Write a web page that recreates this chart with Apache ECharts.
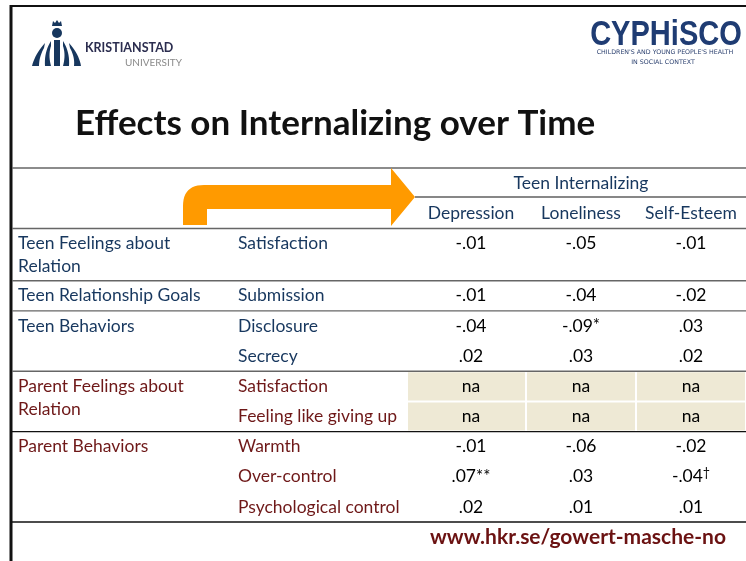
<!DOCTYPE html>
<html>
<head>
<meta charset="utf-8">
<script src="https://cdn.jsdelivr.net/npm/echarts@6/dist/echarts.min.js"></script>
<style>
  html, body { margin: 0; padding: 0; background: #fff; }
  #main { width: 746px; height: 561px; }
</style>
</head>
<body>
<div id="main"></div>
<script>
// table content
var outcomes = ['Depression', 'Loneliness', 'Self-Esteem'];
var groups = ['Teen Feelings about\nRelation', 'Teen Relationship Goals', 'Teen Behaviors', 'Parent Feelings about\nRelation', 'Parent Behaviors'];
var groupSide = ['teen', 'teen', 'teen', 'parent', 'parent'];
var measures = ['Satisfaction', 'Submission', 'Disclosure', 'Secrecy', 'Satisfaction', 'Feeling like giving up', 'Warmth', 'Over-control', 'Psychological control'];
var measureGroup = [0, 1, 2, 2, 3, 3, 4, 4, 4];
var depression = ['-.01', '-.01', '-.04', '.02', 'na', 'na', '-.01', '.07**', '.02'];
var loneliness = ['-.05', '-.04', '-.09*', '.03', 'na', 'na', '-.06', '.03', '.01'];
var selfEsteem = ['-.01', '-.02', '.03', '.02', 'na', 'na', '-.02', '-.04\u2020', '.01'];

var columns = [depression, loneliness, selfEsteem];
var NAVY = '#17375E';
var MAROON = '#6E1818';
var FONT = 'Lato, "Noto Sans", sans-serif';
var FS = 17.5;

// row heights in row units: a group gets room for its wrapped label
var rowH = measures.map(function () { return 1; });
groups.forEach(function (g, gi) {
  var rows = [];
  measureGroup.forEach(function (m, i) { if (m === gi) rows.push(i); });
  var lines = g.split('\n').length;
  var need = 1 + 0.75 * (lines - 1);
  if (need > rows.length) rowH[rows[rows.length - 1]] += need - rows.length;
});
var rowStart = [];
var acc = 0;
rowH.forEach(function (h) { rowStart.push(acc); acc += h; });
var totalRows = acc;

var cellData = [];
columns.forEach(function (col, c) {
  col.forEach(function (v, r) { cellData.push([c, r]); });
});
var rowData = measures.map(function (m, r) { return [0, r]; });

function sideColor(r) {
  return groupSide[measureGroup[r]] === 'teen' ? NAVY : MAROON;
}

// split significance marks off so they can sit raised
function cellRich(txt) {
  var m = txt.match(/^([^*\u2020]*)([*\u2020]*)$/);
  if (!m || !m[2]) return '{v|' + txt + '}';
  return '{v|' + m[1] + '}{' + (m[2].indexOf('*') >= 0 ? 'a' : 'd') + '|' + m[2] + '}';
}

// quadratic curve as points (graphic has no path type)
function quad(p0, p1, p2, n) {
  var pts = [];
  for (var i = 0; i <= n; i++) {
    var t = i / n, u = 1 - t;
    pts.push([u * u * p0[0] + 2 * u * t * p1[0] + t * t * p2[0], u * u * p0[1] + 2 * u * t * p1[1] + t * t * p2[1]]);
  }
  return pts;
}
function crescent(a0, a1, a2, b0, b1, b2) {
  return quad(a0, a1, a2, 10).concat(quad(b2, b1, b0, 10));
}

var arrowPts = [[183, 225]].concat(quad([183, 206], [183, 185], [204, 185], 12))
  .concat([[391, 185], [391, 168], [415, 197], [391, 226], [391, 209], [207, 209], [207, 225]]);

var chart = echarts.init(document.getElementById('main'));
chart.setOption({
  animation: false,
  grid: { left: 416, top: 228, width: 345, height: 294 },
  xAxis: {
    type: 'category',
    position: 'top',
    data: outcomes,
    axisLine: { show: false },
    axisTick: { show: false },
    axisLabel: { color: NAVY, fontSize: FS, fontFamily: FONT, margin: 6, interval: 0 },
    name: 'Teen Internalizing',
    nameLocation: 'middle',
    nameGap: 36,
    nameTextStyle: { color: NAVY, fontSize: FS, fontFamily: FONT }
  },
  yAxis: {
    type: 'value',
    inverse: true,
    min: 0,
    max: totalRows,
    show: false
  },
  graphic: [
    // slide border
    { type: 'line', shape: { x1: 10, y1: 6, x2: 746, y2: 6 }, style: { stroke: '#111', lineWidth: 2 } },
    { type: 'line', shape: { x1: 11, y1: 5, x2: 11, y2: 561 }, style: { stroke: '#111', lineWidth: 3 } },
    // Kristianstad logo
    { type: 'circle', shape: { cx: 57, cy: 33, r: 5 }, style: { fill: NAVY } },
    { type: 'polygon', shape: { points: [[52, 26], [53, 21], [55, 23], [57, 20], [59, 23], [61, 21], [62, 26]] }, style: { fill: NAVY } },
    { type: 'rect', shape: { x: 54, y: 40, width: 6, height: 26 }, style: { fill: NAVY } },
    { type: 'polygon', shape: { points: crescent([51, 41], [44, 52], [45, 66], [51, 46], [48, 55], [51, 66]) }, style: { fill: NAVY } },
    { type: 'polygon', shape: { points: crescent([45, 43], [35, 54], [32, 66], [44, 48], [39, 57], [39, 66]) }, style: { fill: NAVY } },
    { type: 'polygon', shape: { points: crescent([63, 41], [70, 52], [69, 66], [63, 46], [66, 55], [63, 66]) }, style: { fill: NAVY } },
    { type: 'polygon', shape: { points: crescent([69, 43], [79, 54], [81, 66], [70, 48], [75, 57], [74, 66]) }, style: { fill: NAVY } },
    { type: 'text', style: { text: 'KRISTIANSTAD', x: 85, y: 48, verticalAlign: 'middle', font: 'bold 12.5px ' + FONT, fill: '#2B2D4F', letterSpacing: 2.8 } },
    { type: 'text', style: { text: 'UNIVERSITY', x: 125, y: 63, verticalAlign: 'middle', font: '10px ' + FONT, fill: '#8A8A8A', letterSpacing: 3.4 } },
    // CYPHiSCO logo
    { type: 'text', x: 666, y: 35, scaleX: 0.83, style: { text: 'CYPHiSCO', x: 0, y: 0, align: 'center', verticalAlign: 'middle', font: 'bold 35px "Liberation Sans", sans-serif', fill: '#1F3C73' } },
    { type: 'text', style: { text: "CHILDREN'S AND YOUNG PEOPLE'S HEALTH", x: 665, y: 52, align: 'center', verticalAlign: 'middle', font: '6.3px "DejaVu Sans", sans-serif', fill: '#2A3F6E' } },
    { type: 'text', style: { text: 'IN SOCIAL CONTEXT', x: 663, y: 62, align: 'center', verticalAlign: 'middle', font: '6.3px "DejaVu Sans", sans-serif', fill: '#2A3F6E' } },
    // title
    { type: 'text', style: { text: 'Effects on Internalizing over Time', x: 75, y: 124, verticalAlign: 'middle', font: 'bold 35px ' + FONT, fill: '#111' } },
    // header rules
    { type: 'line', shape: { x1: 12, y1: 168, x2: 746, y2: 168 }, style: { stroke: '#666', lineWidth: 1.3 } },
    { type: 'line', shape: { x1: 415, y1: 197, x2: 746, y2: 197 }, style: { stroke: '#111', lineWidth: 1.2 } },
    { type: 'line', shape: { x1: 12, y1: 228.5, x2: 746, y2: 228.5 }, style: { stroke: '#666', lineWidth: 1.3 } },
    // arrow
    { type: 'polygon', shape: { points: arrowPts }, style: { fill: '#FF9A00' } },
    // footer link
    { type: 'text', style: { text: 'www.hkr.se/gowert-masche-no', x: 578, y: 537, align: 'center', verticalAlign: 'middle', font: 'bold 21px ' + FONT, fill: '#6B1212' } }
  ],
  series: [
    {
      type: 'custom',
      name: 'cells',
      data: cellData,
      encode: { x: 0, y: 1 },
      renderItem: function (params, api) {
        var c = api.value(0), r = api.value(1);
        var top = api.coord([c, rowStart[r]]);
        var bot = api.coord([c, rowStart[r] + rowH[r]]);
        var mid = api.coord([c, rowStart[r] + 0.5]);
        var w = api.size([1, 0])[0];
        var txt = columns[c][r];
        var kids = [];
        if (txt === 'na') {
          var x0 = top[0] - w / 2 + 1;
          var ext = c === 0 ? 9 : 0;
          kids.push({ type: 'rect', shape: { x: x0 - ext, y: top[1] + 1, width: w - 2 + ext, height: bot[1] - top[1] - 2 }, style: { fill: '#EEE9D5' } });
        }
        kids.push({
          type: 'text',
          style: {
            text: cellRich(txt), x: mid[0], y: mid[1], align: 'center', verticalAlign: 'middle',
            rich: {
              v: { fontSize: FS, fontFamily: FONT, color: '#111', lineHeight: 20 },
              a: { fontSize: 17, fontFamily: FONT, color: '#111', lineHeight: 20 },
              d: { fontSize: 12.5, fontFamily: FONT, color: '#111', lineHeight: 20, verticalAlign: 'top' }
            }
          }
        });
        return { type: 'group', children: kids };
      }
    },
    {
      type: 'custom',
      name: 'rows',
      data: rowData,
      encode: { x: 0, y: 1 },
      renderItem: function (params, api) {
        var r = api.value(1);
        var mid = api.coord([0, rowStart[r] + 0.5]);
        var bot = api.coord([0, rowStart[r] + rowH[r]]);
        var g = measureGroup[r];
        var color = sideColor(r);
        var kids = [
          { type: 'text', style: { text: measures[r], x: 238, y: mid[1], verticalAlign: 'middle', font: FS + 'px ' + FONT, fill: color } }
        ];
        if (r === 0 || measureGroup[r - 1] !== g) {
          kids.push({ type: 'text', style: { text: groups[g], x: 18, y: mid[1] - 11.5, verticalAlign: 'top', lineHeight: 23, font: FS + 'px ' + FONT, fill: color } });
        }
        if (r === measures.length - 1 || measureGroup[r + 1] !== g) {
          kids.push({ type: 'line', shape: { x1: 12, y1: bot[1], x2: 746, y2: bot[1] }, style: { stroke: groupSide[g] === 'teen' ? '#666' : '#111', lineWidth: 1.3 } });
        }
        return { type: 'group', children: kids };
      }
    }
  ]
});
</script>
</body>
</html>
